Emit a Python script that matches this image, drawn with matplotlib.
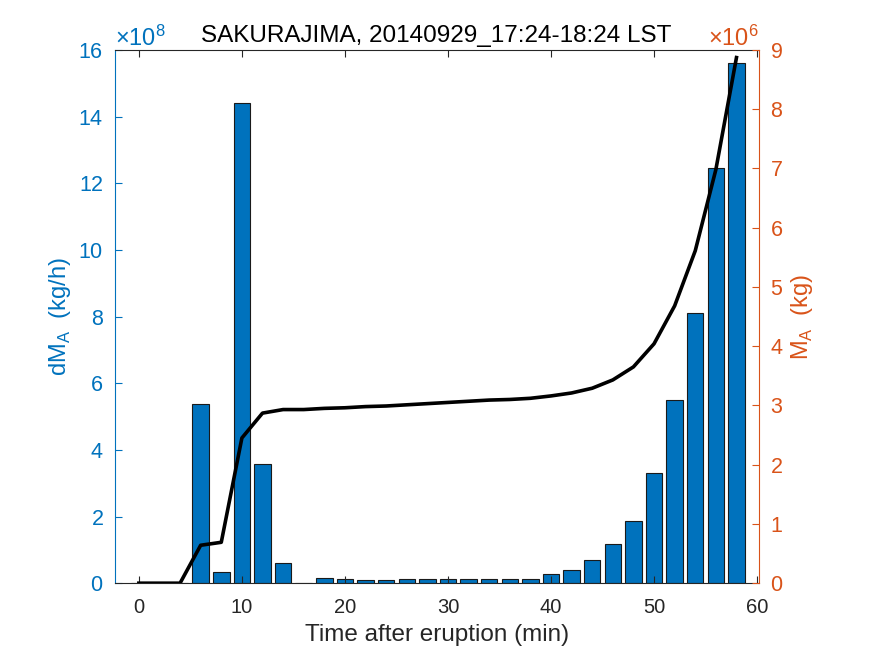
import numpy as np
import matplotlib
matplotlib.use("Agg")
import matplotlib.pyplot as plt
from matplotlib.ticker import ScalarFormatter

plt.rcParams['font.family'] = ['Liberation Sans', 'DejaVu Sans']
plt.rcParams['mathtext.fontset'] = 'custom'
plt.rcParams['mathtext.rm'] = 'Liberation Sans'

# time after eruption (min)
t = np.arange(0, 60, 2)

# mass eruption rate dM_A (kg/h)
dMA = np.array([0.0, 0.0, 0.0, 5.37, 0.33, 14.4, 3.57, 0.62, 0.01, 0.15,
                0.13, 0.11, 0.11, 0.12, 0.13, 0.14, 0.14, 0.13, 0.13, 0.14,
                0.27, 0.39, 0.69, 1.19, 1.87, 3.31, 5.49, 8.12, 12.47, 15.62]) * 1e8

# cumulative mass M_A (kg)
MA = np.array([0.0, 0.0, 0.0, 0.64, 0.69, 2.45, 2.87, 2.93, 2.93, 2.95,
               2.96, 2.98, 2.99, 3.01, 3.03, 3.05, 3.07, 3.09, 3.10, 3.12,
               3.16, 3.21, 3.29, 3.43, 3.65, 4.04, 4.68, 5.61, 6.98, 8.87]) * 1e6

blue = '#0072BD'
orange = '#D95319'
dark = '#262626'

fig = plt.figure(figsize=(8.75, 6.56), dpi=100)
ax = fig.add_axes([0.131, 0.111, 0.736, 0.813])
ax.bar(t, dMA, width=1.6, color=blue, edgecolor='#1a1a1a', linewidth=0.8)
ax.set_xlim(-2.35, 60.15)
ax.set_ylim(0, 16e8)
ax.set_yticks(np.arange(0, 17e8, 2e8))
ax.set_xticks(np.arange(0, 61, 10))

fmt = ScalarFormatter(useMathText=True)
fmt.set_powerlimits((8, 8))
ax.yaxis.set_major_formatter(fmt)

ax2 = ax.twinx()
ax2.plot(t, MA, color='black', linewidth=2.6)
ax2.set_ylim(0, 9e6)
ax2.set_yticks(np.arange(0, 10e6, 1e6))
fmt2 = ScalarFormatter(useMathText=True)
fmt2.set_powerlimits((6, 6))
ax2.yaxis.set_major_formatter(fmt2)

for a in (ax, ax2):
    a.tick_params(direction='in', length=5, width=0.8)
ax.tick_params(axis='x', top=True, colors=dark, labelsize=14.5, pad=11)
ax.tick_params(axis='y', colors=blue, labelsize=15.5, pad=8)
ax2.tick_params(axis='y', colors=orange, labelsize=15.5, pad=8)
ax.yaxis.get_offset_text().set_fontsize(17)
ax.yaxis.get_offset_text().set_color(blue)
ax2.yaxis.get_offset_text().set_fontsize(17)
ax2.yaxis.get_offset_text().set_color(orange)

ax.spines['left'].set_color(blue)
ax.spines['top'].set_color(dark)
ax.spines['bottom'].set_color(dark)
ax2.spines['right'].set_color(orange)
ax2.spines['left'].set_visible(False)
ax2.spines['top'].set_visible(False)
ax2.spines['bottom'].set_visible(False)
ax.spines['right'].set_visible(False)

ax.set_xlabel('Time after eruption (min)', fontsize=17.5, color=dark, labelpad=5)
ax.set_ylabel('dM$_\\mathrm{A}$  (kg/h)', fontsize=17, color=blue, labelpad=4)
ax2.set_ylabel('M$_\\mathrm{A}$  (kg)', fontsize=17, color=orange, labelpad=4)
ax.set_title('SAKURAJIMA, 20140929_17:24-18:24 LST', fontsize=17.5, pad=6)

fig.savefig('out.png', dpi=100)
